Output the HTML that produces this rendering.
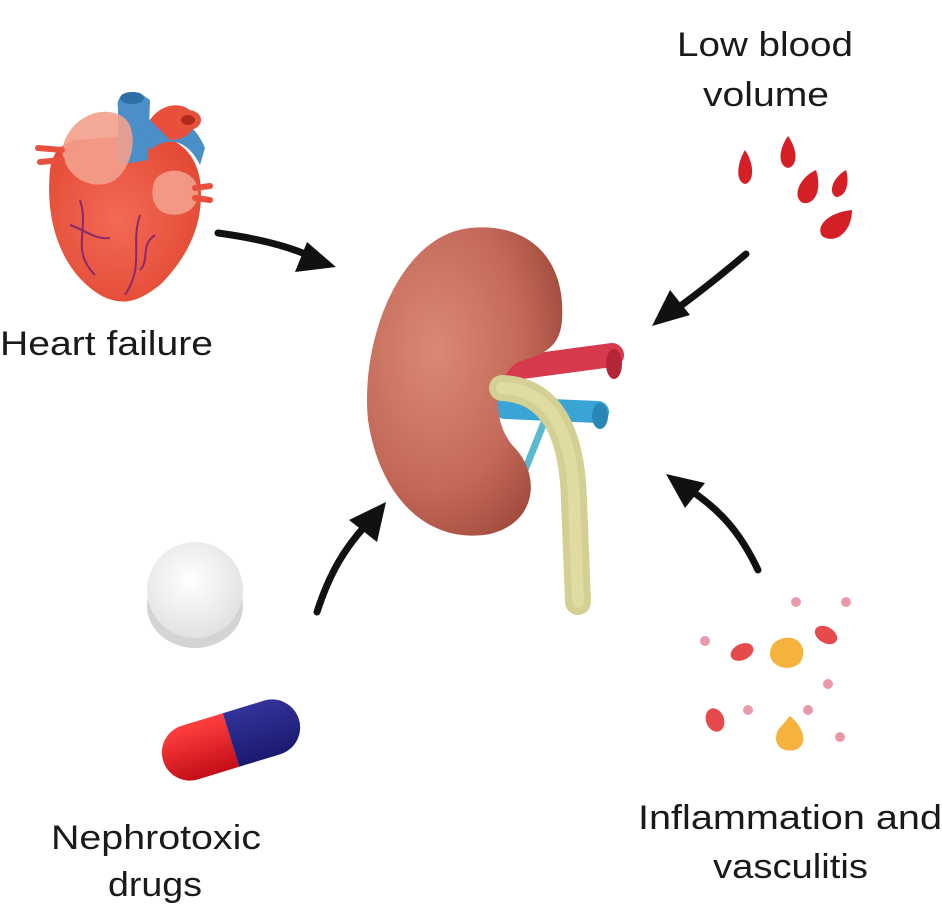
<!DOCTYPE html>
<html><head><meta charset="utf-8"><style>
html,body{margin:0;padding:0;background:#fff;}
svg{display:block;}
text{font-family:"Liberation Sans",sans-serif;fill:#1a1a1a;}
</style></head><body>
<svg width="942" height="909" viewBox="0 0 942 909" xmlns="http://www.w3.org/2000/svg">
<defs>
<radialGradient id="kid" cx="0.35" cy="0.4" r="0.75">
<stop offset="0" stop-color="#d98a74"/><stop offset="0.6" stop-color="#c4695a"/><stop offset="1" stop-color="#9a4536"/></radialGradient>
<radialGradient id="heart" cx="0.45" cy="0.5" r="0.7">
<stop offset="0" stop-color="#f36a55"/><stop offset="1" stop-color="#e0442f"/></radialGradient>
<radialGradient id="pill" cx="0.45" cy="0.4" r="0.6">
<stop offset="0" stop-color="#ffffff"/><stop offset="1" stop-color="#e2e2e2"/></radialGradient>
<linearGradient id="red" x1="0" y1="0" x2="0" y2="1"><stop offset="0" stop-color="#ff4040"/><stop offset="1" stop-color="#c40d18"/></linearGradient>
<linearGradient id="blue" x1="0" y1="0" x2="0" y2="1"><stop offset="0" stop-color="#33339a"/><stop offset="1" stop-color="#1a1a70"/></linearGradient>
</defs>

<!-- Heart -->
<g>
<path d="M50 170 C45 220 60 270 100 295 C125 308 140 300 160 285 C190 255 205 220 200 180 C195 150 175 135 145 135 L75 140 C58 145 52 155 50 170 Z" fill="url(#heart)"/>
<path d="M118 108 C115 95 128 90 140 93 L150 100 L148 160 L118 165 Z" fill="#4a8fc8"/>
<ellipse cx="132" cy="98" rx="12" ry="6" fill="#2f6fa8"/>
<path d="M140 125 C160 110 190 112 205 148 L200 165 C188 140 168 135 150 150 Z" fill="#4a8fc8"/>
<path d="M150 120 C160 105 180 100 192 112 C200 125 190 140 170 140 Z" fill="#e8503c"/>
<ellipse cx="188" cy="120" rx="13" ry="10" fill="#e8503c"/><ellipse cx="188" cy="120" rx="7" ry="5" fill="#b02a1c"/>
<path d="M62 150 C68 118 100 105 120 115 C140 125 135 165 115 180 C95 192 65 180 62 150 Z" fill="#f3a08c" opacity="0.9"/>
<path d="M155 180 C165 165 195 168 198 190 C200 210 180 220 162 212 C152 205 150 192 155 180 Z" fill="#f3a08c" opacity="0.9"/>
<path d="M38 148 L62 150 M40 162 L62 160 M195 188 L210 186 M195 198 L210 200" stroke="#e8503c" stroke-width="6" stroke-linecap="round"/>
<path d="M80 200 C90 230 70 250 95 275 M140 215 C130 245 145 265 125 295 M70 225 C85 230 95 240 110 238 M155 235 C140 245 150 260 140 270" stroke="#8a2a6a" stroke-width="2" fill="none"/>
</g>
<text x="0" y="355" font-size="34" textLength="213" lengthAdjust="spacingAndGlyphs">Heart failure</text>

<!-- Low blood volume -->
<text x="677" y="56" font-size="34" textLength="176" lengthAdjust="spacingAndGlyphs">Low blood</text>
<text x="703" y="106" font-size="34" textLength="126" lengthAdjust="spacingAndGlyphs">volume</text>
<g fill="#d51f26">
<path d="M745 150 C736 165 736 182 745 184 C754 182 755 165 745 150 Z"/>
<path d="M788 136 C778 150 778 166 788 168 C798 166 798 150 788 136 Z"/>
<path d="M816 170 C798 178 792 198 803 203 C816 205 822 188 816 170 Z"/>
<path d="M846 170 C832 178 828 193 836 197 C846 197 850 183 846 170 Z"/>
<path d="M852 210 C830 212 815 225 822 236 C835 245 852 232 852 210 Z"/>
</g>

<!-- Kidney vessels -->
<path d="M500 370 L612 355" stroke="#d63a4c" stroke-width="24" stroke-linecap="round"/>
<ellipse cx="614" cy="364" rx="8" ry="15" fill="#b52538"/>
<path d="M505 408 L598 412" stroke="#3aa4d4" stroke-width="22" stroke-linecap="round"/>
<ellipse cx="600" cy="416" rx="8" ry="13" fill="#2a88b8"/>
<path d="M545 420 L525 470" stroke="#5ab8d0" stroke-width="7"/>
<!-- Kidney -->
<path d="M470 228 C530 222 566 260 562 320 C560 350 540 355 518 362 C492 378 492 425 515 448 C540 475 538 522 490 534 C430 545 380 500 368 420 C360 340 400 235 470 228 Z" fill="url(#kid)"/>
<!-- Ureter -->
<path d="M502 388 C550 390 572 430 574 500 L578 602" stroke="#d4cf92" stroke-width="26" fill="none" stroke-linecap="round"/>
<path d="M502 388 C550 390 572 430 574 500 L578 602" stroke="#e6e0a8" stroke-width="12" fill="none" stroke-linecap="round" opacity="0.7"/>

<!-- Arrows -->
<g stroke="#111" stroke-width="7" fill="none" stroke-linecap="round">
<path d="M218 233 C255 238 285 245 310 256"/>
<path d="M746 254 C720 276 700 292 675 310"/>
<path d="M317 612 C330 572 345 548 366 525"/>
<path d="M758 570 C740 532 720 510 690 490"/>
</g>
<g fill="#111">
<polygon points="336,267 295,272 307,242"/>
<polygon points="652,326 670,290 690,315"/>
<polygon points="386,502 377,542 349,520"/>
<polygon points="666,474 705,483 685,508"/>
</g>

<!-- Pills -->
<ellipse cx="195" cy="606" rx="48" ry="42" fill="#d4d4d4"/>
<circle cx="195" cy="590" r="48" fill="url(#pill)"/>
<g transform="rotate(-17 231 740)">
<path d="M231 712 L188 712 A28 28 0 0 0 188 768 L231 768 Z" fill="url(#red)"/>
<path d="M231 712 L274 712 A28 28 0 0 1 274 768 L231 768 Z" fill="url(#blue)"/>
</g>
<text x="51" y="849" font-size="34" textLength="210" lengthAdjust="spacingAndGlyphs">Nephrotoxic</text>
<text x="108" y="896" font-size="34" textLength="94" lengthAdjust="spacingAndGlyphs">drugs</text>

<!-- Inflammation -->
<g fill="#e64a4a">
<ellipse cx="742" cy="652" rx="12" ry="8" transform="rotate(-25 742 652)"/>
<ellipse cx="826" cy="635" rx="12" ry="8" transform="rotate(30 826 635)"/>
<ellipse cx="715" cy="720" rx="9" ry="12" transform="rotate(-20 715 720)"/>
</g>
<g fill="#f5b23c">
<path d="M784 638 C800 635 808 650 800 663 C790 672 772 668 770 655 C770 645 775 640 784 638 Z"/>
<path d="M790 716 C805 728 808 746 795 750 C780 753 772 743 778 730 Z"/>
</g>
<g fill="#e89aa8">
<circle cx="796" cy="602" r="5"/><circle cx="846" cy="602" r="5"/><circle cx="705" cy="641" r="5"/>
<circle cx="828" cy="684" r="5"/><circle cx="748" cy="710" r="5"/><circle cx="808" cy="710" r="5"/>
<circle cx="840" cy="737" r="5"/>
</g>
<text x="638" y="829" font-size="34" textLength="304" lengthAdjust="spacingAndGlyphs">Inflammation and</text>
<text x="713" y="878" font-size="34" textLength="155" lengthAdjust="spacingAndGlyphs">vasculitis</text>
</svg>
</body></html>
